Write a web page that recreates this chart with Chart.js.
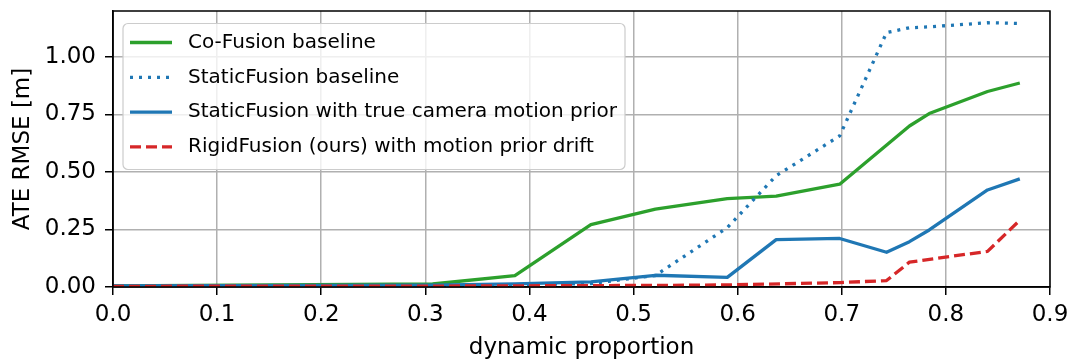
<!DOCTYPE html>
<html>
<head>
<meta charset="utf-8">
<script src="https://cdn.jsdelivr.net/npm/chart.js@4"></script>
<style>
  html, body { margin: 0; padding: 0; background: #fff; }
  #wrap { width: 1071px; height: 361px; }
</style>
</head>
<body>
<div id="wrap"><canvas id="ate" width="1071" height="361"></canvas></div>
<script>
// ---------------------------------------------------------------
// ATE RMSE vs. dynamic proportion, one value per sequence
// (null = no sample for that method at this proportion)
// ---------------------------------------------------------------
const proportion = [0.0, 0.307, 0.386, 0.459, 0.521, 0.590, 0.637, 0.698, 0.743, 0.765, 0.784, 0.840, 0.871];

const coFusion     = [0.005, 0.013, 0.049, 0.271, 0.339, 0.384, 0.395, 0.447, null,  0.700, 0.754, 0.850, 0.887];
const staticFusion = [0.004, 0.006, 0.010, 0.015, 0.050, 0.258, 0.484, 0.657, 1.106, 1.127, 1.131, 1.149, 1.146];
const staticPrior  = [0.005, 0.008, 0.014, 0.022, 0.051, 0.042, 0.206, 0.211, 0.151, 0.197, 0.248, 0.422, 0.470];
const rigidFusion  = [0.003, 0.004, 0.005, 0.006, 0.007, 0.009, null,  0.019, 0.028, 0.108, null,  0.155, 0.290];

const seriesLabels = [
  'Co-Fusion baseline',
  'StaticFusion baseline',
  'StaticFusion with true camera motion prior',
  'RigidFusion (ours) with motion prior drift'
];

const xTicks = [0.0, 0.1, 0.2, 0.3, 0.4, 0.5, 0.6, 0.7, 0.8, 0.9];
const yTicks = [0.0, 0.25, 0.5, 0.75, 1.0];

const FONT = "'DejaVu Sans', sans-serif";

function toPoints(ys){
  return proportion.map((x, i) => ({ x: x, y: ys[i] }));
}

const styles = [
  { color: '#2ca02c', dash: [] },
  { color: '#1f77b4', dash: [3, 6] },
  { color: '#1f77b4', dash: [] },
  { color: '#d62728', dash: [11, 5] }
];

const datasets = [coFusion, staticFusion, staticPrior, rigidFusion].map((ys, i) => ({
  label: seriesLabels[i],
  data: toPoints(ys),
  borderColor: styles[i].color,
  backgroundColor: styles[i].color,
  borderDash: styles[i].dash,
  borderWidth: 3.3,
  borderCapStyle: 'butt',
  borderJoinStyle: 'round',
  pointRadius: 0,
  tension: 0,
  spanGaps: true,
  fill: false,
  order: 3 - i   // later series drawn on top
}));

// box around the plot area, like the other spines
const frame = {
  id: 'frame',
  afterDatasetsDraw(chart){
    const { ctx, chartArea: a } = chart;
    ctx.save();
    ctx.strokeStyle = '#000';
    ctx.lineWidth = 1.5;
    ctx.strokeRect(a.left, a.top, a.right - a.left, a.bottom - a.top);
    ctx.restore();
  }
};

// legend box in the upper left corner of the plot
const boxLegend = {
  id: 'boxLegend',
  afterDraw(chart){
    const { ctx, chartArea: a } = chart;
    const x0 = a.left + 10, y0 = a.top + 12.5;
    const w = 502, h = 146;
    ctx.save();
    ctx.beginPath();
    ctx.roundRect(x0, y0, w, h, 5);
    ctx.fillStyle = 'rgba(255,255,255,0.8)';
    ctx.fill();
    ctx.strokeStyle = '#cccccc';
    ctx.lineWidth = 1.2;
    ctx.stroke();

    ctx.font = '20px ' + FONT;
    ctx.textBaseline = 'middle';
    ctx.fillStyle = '#000';
    chart.data.datasets.forEach((ds, i) => {
      const y = y0 + 19 + i * 34.8;
      ctx.beginPath();
      ctx.setLineDash(ds.borderDash);
      ctx.lineWidth = 3.3;
      ctx.lineCap = 'butt';
      ctx.strokeStyle = ds.borderColor;
      ctx.moveTo(x0 + 7, y);
      ctx.lineTo(x0 + 49, y);
      ctx.stroke();
      ctx.setLineDash([]);
      ctx.fillText(ds.label, x0 + 65, y);
    });
    ctx.restore();
  }
};

new Chart(document.getElementById('ate'), {
  type: 'line',
  data: { datasets },
  options: {
    responsive: false,
    animation: false,
    devicePixelRatio: 1,
    layout: { padding: { top: 11, right: 21, left: 0, bottom: 0 } },
    plugins: { legend: { display: false }, tooltip: { enabled: false } },
    scales: {
      x: {
        type: 'linear',
        min: 0, max: 0.9,
        afterBuildTicks: s => { s.ticks = xTicks.map(v => ({ value: v })); },
        afterFit: s => { s.height = 74; s.paddingLeft = 0; s.paddingRight = 0; },
        ticks: {
          color: '#000', padding: 6, maxRotation: 0, autoSkip: false,
          font: { family: FONT, size: 23 },
          callback: v => Number(v).toFixed(1)
        },
        grid: { color: '#b0b0b0', lineWidth: 1.5, tickLength: 8, tickColor: '#000', tickWidth: 1.5 },
        border: { display: true, color: '#000', width: 1.5 },
        title: {
          display: true, text: 'dynamic proportion', color: '#000',
          font: { family: FONT, size: 23 }, padding: { top: 0, bottom: -1 }
        }
      },
      y: {
        type: 'linear',
        min: 0, max: 1.2,
        afterBuildTicks: s => { s.ticks = yTicks.map(v => ({ value: v })); },
        afterFit: s => { s.width = 113; s.paddingTop = 0; s.paddingBottom = 0; },
        ticks: {
          color: '#000', padding: 9,
          font: { family: FONT, size: 23 },
          callback: v => Number(v).toFixed(2)
        },
        grid: { color: '#b0b0b0', lineWidth: 1.5, tickLength: 8, tickColor: '#000', tickWidth: 1.5 },
        border: { display: true, color: '#000', width: 1.5 },
        title: {
          display: true, text: 'ATE RMSE [m]', color: '#000',
          font: { family: FONT, size: 23 }, padding: { top: 9, bottom: 0 }
        }
      }
    }
  },
  plugins: [frame, boxLegend]
});
</script>
</body>
</html>
